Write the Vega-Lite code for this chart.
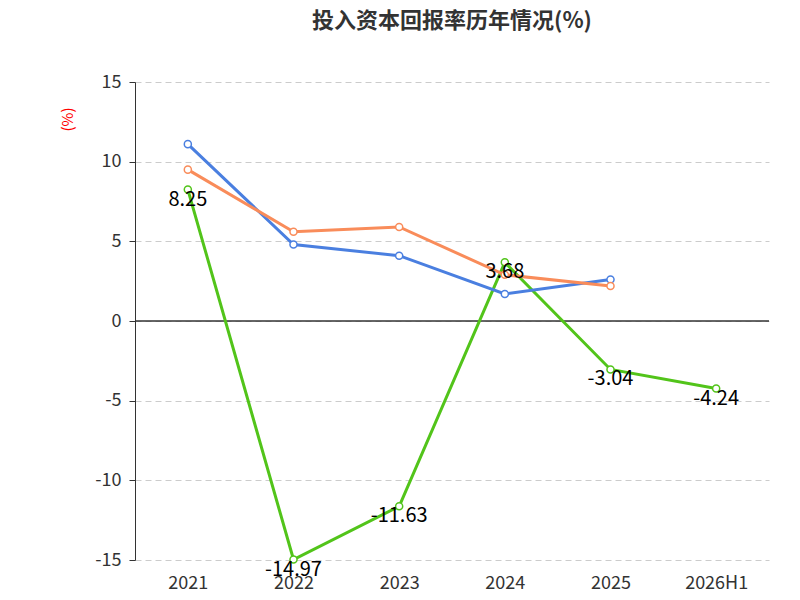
{
"$schema":"https://vega.github.io/schema/vega-lite/v6.json",
"width":800,"height":600,"autosize":{"type":"fit","contains":"padding"},
"padding":{"top":10,"left":60,"right":30,"bottom":8},
"title":{"text":"投入资本回报率历年情况(%)","fontSize":22,"font":"Noto Sans CJK SC","fontWeight":"bold","color":"#333","offset":40},
"config":{"view":{"stroke":null},"font":"Noto Sans CJK SC"},
"data":{"values":[
{"year":"2021","s":"公司投入资本回报率","v":8.25},
{"year":"2022","s":"公司投入资本回报率","v":-14.97},
{"year":"2023","s":"公司投入资本回报率","v":-11.63},
{"year":"2024","s":"公司投入资本回报率","v":3.68},
{"year":"2025","s":"公司投入资本回报率","v":-3.04},
{"year":"2026H1","s":"公司投入资本回报率","v":-4.24},
{"year":"2021","s":"行业均值","v":11.1},
{"year":"2022","s":"行业均值","v":4.8},
{"year":"2023","s":"行业均值","v":4.1},
{"year":"2024","s":"行业均值","v":1.7},
{"year":"2025","s":"行业均值","v":2.6},
{"year":"2021","s":"行业中位数","v":9.5},
{"year":"2022","s":"行业中位数","v":5.6},
{"year":"2023","s":"行业中位数","v":5.9},
{"year":"2024","s":"行业中位数","v":2.9},
{"year":"2025","s":"行业中位数","v":2.2}
]},
"encoding":{
"x":{"field":"year","type":"ordinal","sort":null,"scale":{"type":"point","padding":0.5},"axis":{"title":null,"labelAngle":0,"labelFontSize":18,"labelColor":"#333","domain":false,"ticks":false,"labelPadding":14}},
"y":{"field":"v","type":"quantitative","scale":{"domain":[-15,15],"nice":false},"axis":{"values":[-15,-10,-5,0,5,10,15],"labelExpr":"replace(datum.label,'−','-')","title":"(%)","titleColor":"red","titleFontSize":15,"titleFontWeight":"normal","titleAngle":-90,"titleAnchor":"end","titleX":-60,"titleY":25,"labelFontSize":18,"labelColor":"#333","labelPadding":8,"gridDash":[6,4],"gridColor":"#ccc","domainColor":"#333","tickColor":"#333","tickSize":6}}
},
"layer":[
{"mark":{"type":"rule","color":"#333","strokeWidth":1.5},"data":{"values":[{"z":0}]},"encoding":{"y":{"field":"z","type":"quantitative"},"x":null}},
{"mark":{"type":"line","strokeWidth":3},
"encoding":{"color":{"field":"s","type":"nominal","scale":{"domain":["公司投入资本回报率","行业均值","行业中位数"],"range":["#52c41a","#4a7fe0","#f98c5a"]},"legend":null}}},
{"mark":{"type":"point","filled":false,"fill":"white","fillOpacity":1,"size":50,"strokeWidth":1.5,"opacity":1},
"encoding":{"stroke":{"field":"s","type":"nominal","scale":{"domain":["公司投入资本回报率","行业均值","行业中位数"],"range":["#52c41a","#4a7fe0","#f98c5a"]},
"legend":{"orient":"bottom","title":"制图数据来自恒生聚源数据库","titleOrient":"bottom","titleColor":"#c8961e","titleFontSize":15,"titleFontWeight":"normal","titleAnchor":"middle","titlePadding":30,"titleLimit":0,"labelLimit":0,"labelFontSize":20,"labelColor":"#333","symbolType":"circle","symbolSize":300,"symbolStrokeWidth":2,"columnPadding":25,"offset":40}}}},
{"transform":[{"filter":"datum.s=='公司投入资本回报率'"},{"calculate":"replace(format(datum.v,'.2f'),'−','-')","as":"lab"}],"mark":{"type":"text","fontSize":20,"color":"black","dy":10},"encoding":{"text":{"field":"lab","type":"nominal"}}}
]
}
